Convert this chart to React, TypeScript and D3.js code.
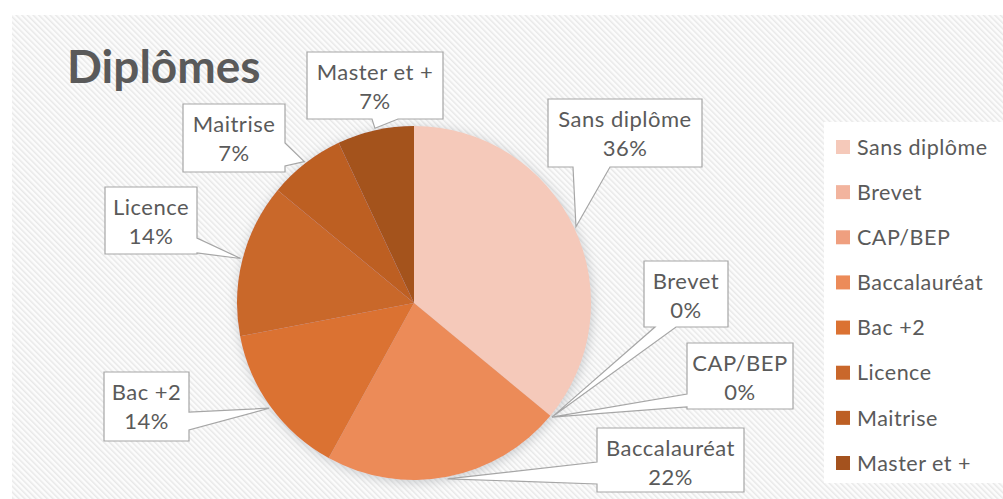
import React from "react";
import * as d3 from "d3";

const categories = ["Sans diplôme", "Brevet", "CAP/BEP", "Baccalauréat", "Bac +2", "Licence", "Maitrise", "Master et +"];
const values = [36, 0, 0, 22, 14, 14, 7, 7];
const percentLabels = ["36%", "0%", "0%", "22%", "14%", "14%", "7%", "7%"];
const colors = ["#F5C9BA", "#F2B49E", "#EF9F7F", "#EC8B59", "#DB7232", "#C9672B", "#BD5F24", "#A4521E"];
const title = "Diplômes";

// callout layout: box x, y, w, h, wedge side and base range along that side
const calloutLayout = [
  { x: 548, y: 99, w: 154, h: 68, side: "bottom", a: 573, b: 610 },
  { x: 644, y: 261, w: 84, h: 66, side: "bottom", a: 655, b: 676 },
  { x: 687, y: 343, w: 106, h: 66, side: "left", a: 394, b: 407 },
  { x: 597, y: 428, w: 147, h: 64, side: "left", a: 462, b: 484 },
  { x: 104, y: 372, w: 85, h: 69, side: "right", a: 412, b: 430 },
  { x: 105, y: 187, w: 92, h: 67, side: "right", a: 238, b: 253 },
  { x: 183, y: 104, w: 102, h: 68, side: "right", a: 143, b: 166 },
  { x: 307, y: 52, w: 136, h: 67, side: "bottom", a: 372, b: 398 },
];

const W = 1003, H = 499;
const cx = 414, cy = 303, R = 177;
const FONT = "Lato, 'Open Sans', sans-serif";
const TXT = "#5a5a5a";

function calloutPath(l: any, tip: [number, number]) {
  const { x, y, w, h, side, a, b } = l;
  const x2 = x + w, y2 = y + h;
  const [tx, ty] = tip;
  if (side === "bottom") {
    return `M${x},${y}H${x2}V${y2}H${b}L${tx},${ty}L${a},${y2}H${x}Z`;
  }
  if (side === "right") {
    return `M${x},${y}H${x2}V${a}L${tx},${ty}L${x2},${b}V${y2}H${x}Z`;
  }
  if (side === "left") {
    return `M${x},${y}H${x2}V${y2}H${x}V${b}L${tx},${ty}L${x},${a}Z`;
  }
  return `M${x},${y}H${x2}V${y2}H${x}Z`;
}

export default function App() {
  const pie = d3.pie<number>().sort(null).value((d) => d).startAngle(0).endAngle(2 * Math.PI);
  const arcs = pie(values);
  const arc = d3.arc<d3.PieArcDatum<number>>().innerRadius(0).outerRadius(R);
  const tipArc = d3.arc<d3.PieArcDatum<number>>().innerRadius(R + 2).outerRadius(R + 2);

  const legendY = d3.scalePoint<string>().domain(categories).range([147, 463]);

  return (
    <svg width={W} height={H} style={{ position: "absolute", left: 0, top: 0 }}>
      <defs>
        <pattern id="stripes" width="4" height="4" patternUnits="userSpaceOnUse" patternTransform="rotate(-45)">
          <rect width="4" height="4" fill="#fcfcfc" />
          <rect width="1.5" height="4" fill="#e8e8e8" />
        </pattern>
        <filter id="shadow" x="-20%" y="-20%" width="140%" height="140%">
          <feDropShadow dx="1" dy="2" stdDeviation="6" floodColor="#8a9096" floodOpacity="0.45" />
        </filter>
      </defs>
      <rect x={0} y={0} width={W} height={H} fill="#ffffff" />
      <rect x={12} y={15} width={W - 12} height={H - 15} fill="url(#stripes)" />
      <text x={67} y={83} fontFamily={FONT} fontWeight={700} fontSize={46} fill={TXT}>{title}</text>

      <g transform={`translate(${cx},${cy})`} filter="url(#shadow)">
        {arcs.map((a, i) => (
          <path key={i} d={arc(a) || ""} fill={colors[i]} />
        ))}
      </g>

      {arcs.map((a, i) => {
        const c = tipArc.centroid(a);
        const tip: [number, number] = [cx + c[0], cy + c[1]];
        const l = calloutLayout[i];
        const mx = l.x + l.w / 2;
        return (
          <g key={"c" + i}>
            <path d={calloutPath(l, tip)} fill="#ffffff" stroke="#a6a6a6" strokeWidth={1.2} strokeLinejoin="miter" />
            <text x={mx} y={l.y + 28} textAnchor="middle" fontFamily={FONT} fontSize={22} letterSpacing={0.5} fill={TXT}>{categories[i]}</text>
            <text x={mx} y={l.y + 57} textAnchor="middle" fontFamily={FONT} fontSize={22} letterSpacing={0.5} fill={TXT}>{percentLabels[i]}</text>
          </g>
        );
      })}

      <rect x={824} y={122} width={W - 824} height={361} fill="#ffffff" />
      {categories.map((c, i) => {
        const y = legendY(c) as number;
        return (
          <g key={"l" + i}>
            <rect x={836} y={y - 7} width={14} height={14} fill={colors[i]} />
            <text x={857} y={y} dy="0.36em" fontFamily={FONT} fontSize={21.5} letterSpacing={0.5} fill={TXT}>{c}</text>
          </g>
        );
      })}
    </svg>
  );
}
